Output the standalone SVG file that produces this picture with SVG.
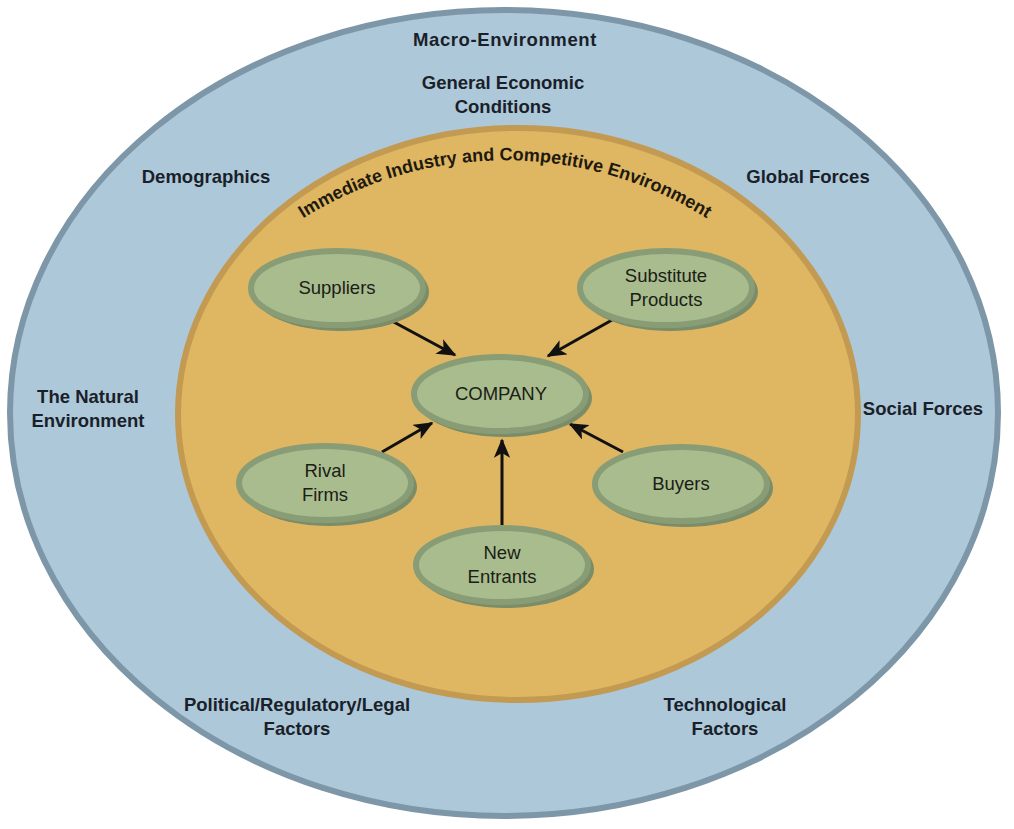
<svg xmlns="http://www.w3.org/2000/svg" width="1014" height="829" viewBox="0 0 1014 829">
<defs>
<marker id="ah" viewBox="0 0 12 10" refX="11" refY="5" markerWidth="6.5" markerHeight="5.5" orient="auto" markerUnits="strokeWidth">
<path d="M0,0 L12,5 L0,10 L3,5 Z" fill="#111"/>
</marker>
<path id="arc" d="M 240,268 A 380 380 0 0 1 770 268"/>
</defs>
<style>
.macro{font-family:"Liberation Sans",Arial,sans-serif;font-weight:bold;font-size:18.5px;fill:#1a1f2a;text-anchor:middle}
.node text{font-family:"Liberation Sans",Arial,sans-serif;font-size:18.5px;fill:#1a2016;text-anchor:middle}
.sh{fill:#7a8c68}
.nb{fill:#a9bc8e;stroke:#889c76;stroke-width:6}
.conn line{stroke:#111;stroke-width:3;marker-end:url(#ah)}
</style>
<rect width="1014" height="829" fill="#ffffff"/>
<g id="macro-environment">
<ellipse cx="504" cy="413" rx="494" ry="403" fill="#adc8d9" stroke="#7e97a8" stroke-width="6"/>
<text class="macro" x="505" y="46" style="letter-spacing:0.6px">Macro-Environment</text>
<text class="macro" x="503" y="89">General Economic</text>
<text class="macro" x="503" y="113">Conditions</text>
<text class="macro" x="206" y="183">Demographics</text>
<text class="macro" x="808" y="183">Global Forces</text>
<text class="macro" x="88" y="403">The Natural</text>
<text class="macro" x="88" y="427">Environment</text>
<text class="macro" x="923" y="415">Social Forces</text>
<text class="macro" x="297" y="711">Political/Regulatory/Legal</text>
<text class="macro" x="297" y="735">Factors</text>
<text class="macro" x="725" y="711">Technological</text>
<text class="macro" x="725" y="735">Factors</text>
</g>
<g id="industry-environment">
<ellipse cx="518" cy="414" rx="340" ry="286" fill="#dfb661" stroke="#c29a52" stroke-width="6"/>
<text font-family="'Liberation Sans',Arial,sans-serif" font-weight="bold" font-size="18" fill="#1e1a10" text-anchor="middle"><textPath href="#arc" startOffset="50%">Immediate Industry and Competitive Environment</textPath></text>
</g>
<g id="connectors" class="conn">
<line x1="390" y1="320" x2="455" y2="355"/>
<line x1="612" y1="320" x2="548" y2="356"/>
<line x1="382" y1="452" x2="432" y2="423"/>
<line x1="623" y1="452" x2="570" y2="424"/>
<line x1="502" y1="525" x2="502" y2="440"/>
</g>
<g id="suppliers" class="node">
<ellipse class="sh" cx="341" cy="292" rx="88" ry="39"/>
<ellipse class="nb" cx="337" cy="288" rx="86" ry="37"/>
<text x="337" y="294">Suppliers</text>
</g>
<g id="substitute-products" class="node">
<ellipse class="sh" cx="670" cy="292" rx="88" ry="39"/>
<ellipse class="nb" cx="666" cy="288" rx="86" ry="37"/>
<text x="666" y="282">Substitute</text>
<text x="666" y="306">Products</text>
</g>
<g id="company" class="node">
<ellipse class="sh" cx="504" cy="398" rx="88" ry="39"/>
<ellipse class="nb" cx="500" cy="394" rx="86" ry="37"/>
<text x="501" y="400">COMPANY</text>
</g>
<g id="rival-firms" class="node">
<ellipse class="sh" cx="329" cy="487" rx="88" ry="39"/>
<ellipse class="nb" cx="325" cy="483" rx="86" ry="37"/>
<text x="325" y="477">Rival</text>
<text x="325" y="501">Firms</text>
</g>
<g id="buyers" class="node">
<ellipse class="sh" cx="685" cy="488" rx="88" ry="39"/>
<ellipse class="nb" cx="681" cy="484" rx="86" ry="37"/>
<text x="681" y="490">Buyers</text>
</g>
<g id="new-entrants" class="node">
<ellipse class="sh" cx="506" cy="569" rx="88" ry="39"/>
<ellipse class="nb" cx="502" cy="565" rx="86" ry="37"/>
<text x="502" y="559">New</text>
<text x="502" y="583">Entrants</text>
</g>
</svg>
